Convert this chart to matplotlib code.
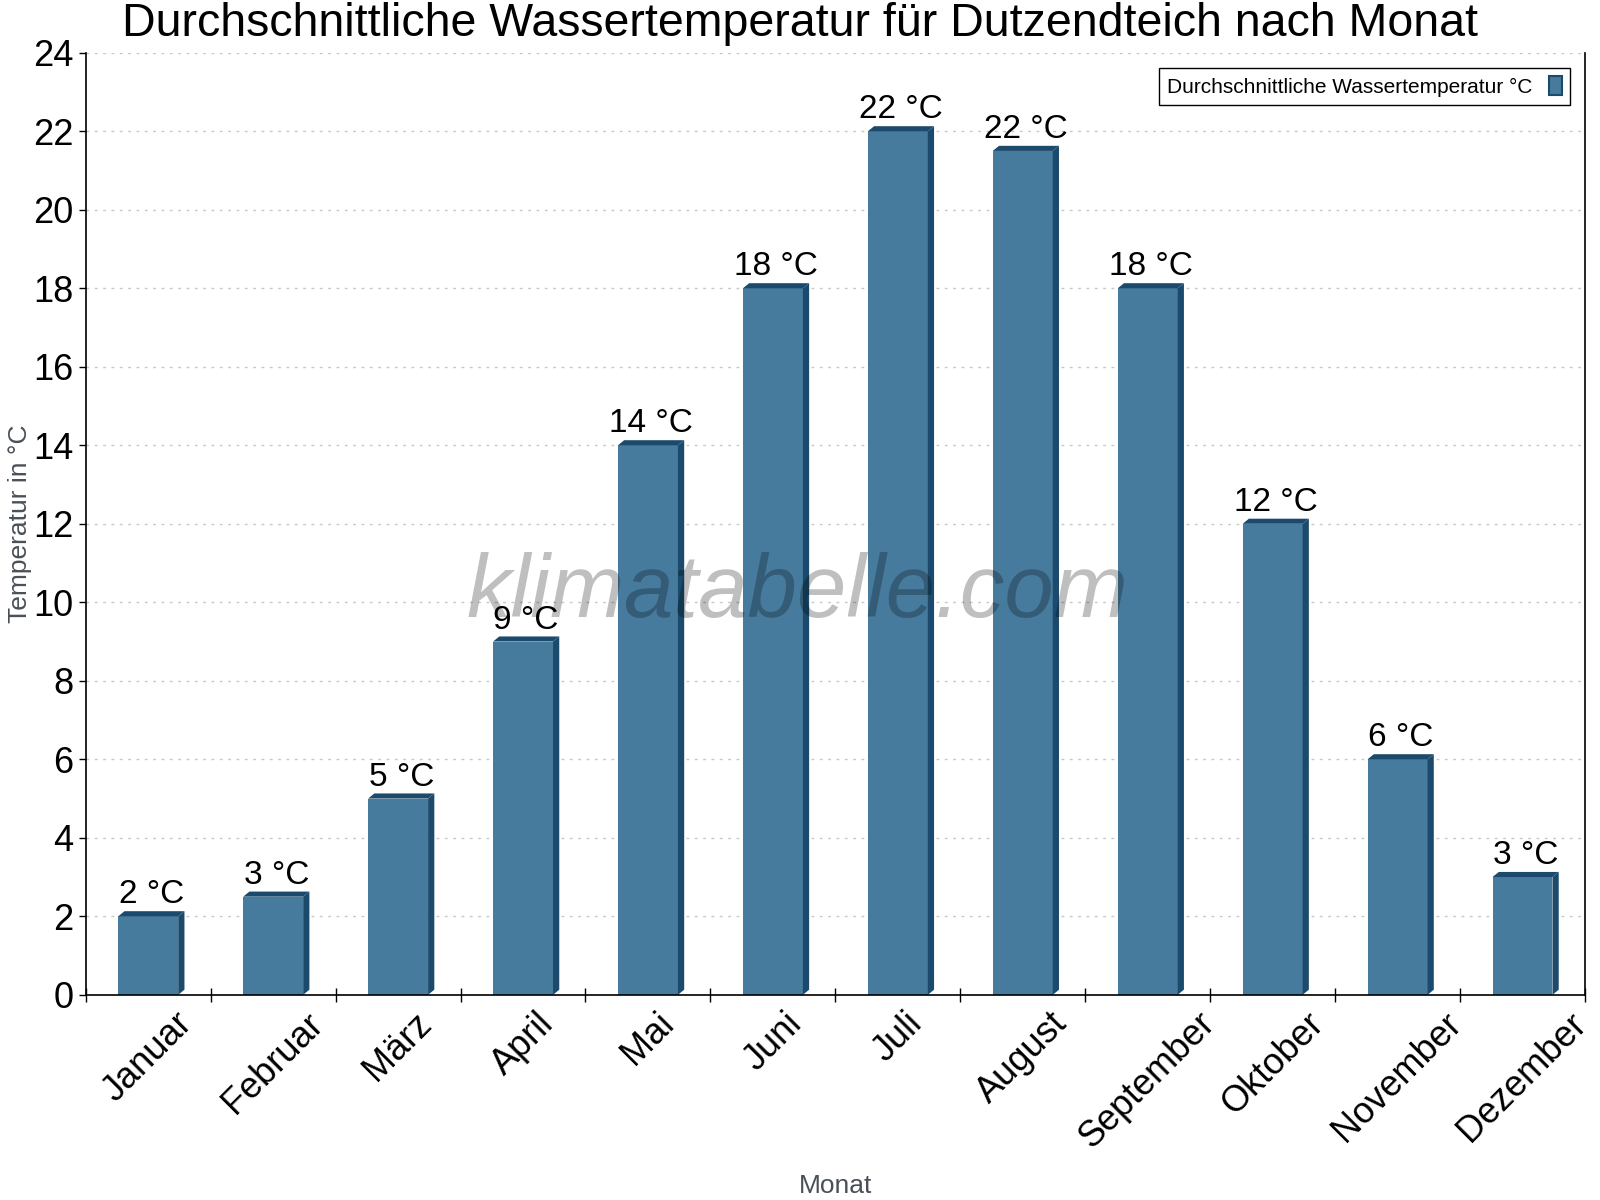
import numpy as np
import matplotlib
matplotlib.use("Agg")
import matplotlib.pyplot as plt
from matplotlib.patches import Polygon

plt.rcParams['font.family'] = ['Liberation Sans', 'DejaVu Sans']

months = ["Januar", "Februar", "März", "April", "Mai", "Juni", "Juli",
          "August", "September", "Oktober", "November", "Dezember"]
temps = [2, 2.5, 5, 9, 14, 18, 22, 21.5, 18, 12, 6, 3]
labels = ["2 °C", "3 °C", "5 °C", "9 °C", "14 °C", "18 °C", "22 °C",
          "22 °C", "18 °C", "12 °C", "6 °C", "3 °C"]

face = "#467b9e"
dark = "#1b4a6c"

fig = plt.figure(figsize=(16, 12), dpi=100)
ax = fig.add_axes([0.0536, 0.171, 0.937, 0.785])

x = np.arange(len(months))
w = 0.48
ax.bar(x, temps, width=w, color=face, zorder=2, label="Durchschnittliche Wassertemperatur °C",
       edgecolor=dark, linewidth=0)

ax.set_xlim(-0.5, 11.5)
ax.set_ylim(0, 24)

# 3d side and top
dx = 0.05
dy = 0.13
for xi, v in zip(x, temps):
    l = xi - w / 2
    r = xi + w / 2
    side = Polygon([(r, 0), (r, v), (r + dx, v + dy), (r + dx, dy)],
                   closed=True, color=dark, zorder=2, lw=0)
    top = Polygon([(l, v), (r, v), (r + dx, v + dy), (l + dx, v + dy)],
                  closed=True, color=dark, zorder=2, lw=0)
    ax.add_patch(side)
    ax.add_patch(top)
    ax.text(xi + dx / 2, v + dy + 0.02, labels[xi], ha='center', va='bottom',
            fontsize=24, color='black', zorder=4)

ax.set_yticks(np.arange(0, 25, 2))
ax.tick_params(axis='y', labelsize=26, length=5, width=1, direction='out', pad=4)
ax.yaxis.grid(True, linestyle=(0, (2, 4)), color='#c8c8c8', linewidth=1, zorder=0)
ax.set_axisbelow(True)

ax.set_xticks(x)
ax.set_xticklabels(months, rotation=45, ha='center', fontsize=26)
ax.tick_params(axis='x', which='major', length=0, pad=8)
ax.set_xticks(np.arange(-0.5, 12, 1), minor=True)
ax.tick_params(axis='x', which='minor', length=10, width=1, direction='inout')

ax.spines['top'].set_visible(False)
for s in ['left', 'bottom', 'right']:
    ax.spines[s].set_linewidth(1.2)
    ax.spines[s].set_color('black')

ax.set_ylabel("Temperatur in °C", fontsize=19, color='#4a5058')
ax.yaxis.set_label_coords(-0.036, 0.5)
ax.set_xlabel("Monat", fontsize=19, color='#4a5058')
ax.xaxis.set_label_coords(0.5, -0.19)

fig.suptitle("Durchschnittliche Wassertemperatur für Dutzendteich nach Monat",
             fontsize=33.5, x=0.5, y=0.998, va='top')

ax.text(0.475, 0.425, "klimatabelle.com", transform=ax.transAxes, fontsize=64,
        style='italic', color='black', alpha=0.25, ha='center', va='center', zorder=5)

leg = ax.legend(loc='upper right', fontsize=15, markerfirst=False, fancybox=False,
                edgecolor='black', framealpha=1, handlelength=0.6, handleheight=1.0,
                borderpad=0.4, bbox_to_anchor=(0.997, 0.995))
leg.get_frame().set_linewidth(1)
for h in leg.legend_handles:
    h.set_edgecolor(dark)
    h.set_linewidth(1.5)

fig.savefig("out.png", dpi=100)
